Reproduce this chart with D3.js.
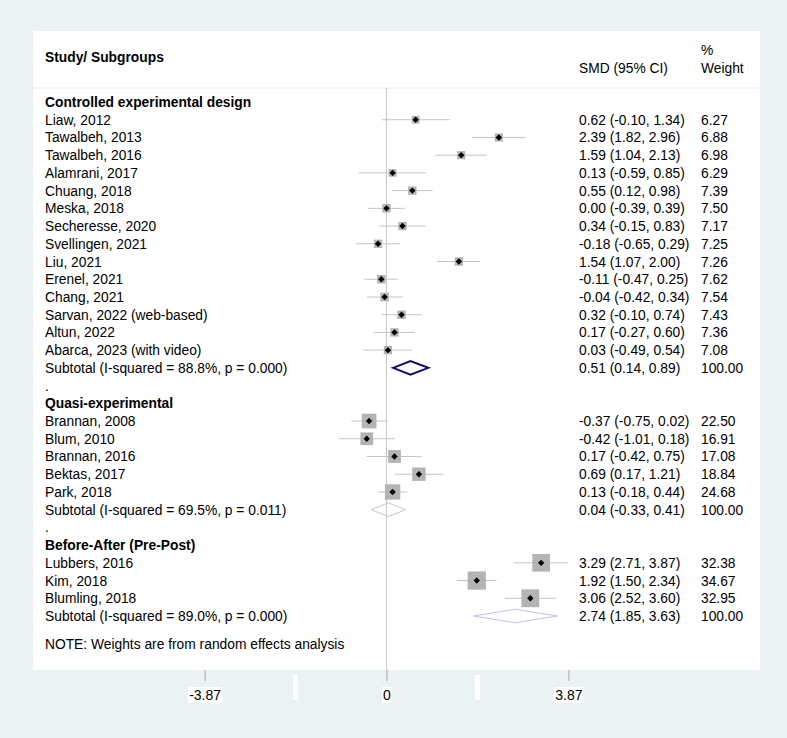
<!DOCTYPE html>
<html><head><meta charset="utf-8">
<script src="https://cdn.jsdelivr.net/npm/d3@7"></script>
<style>
body{margin:0;background:#eaf2f3;}
svg{display:block;font-family:"Liberation Sans",Arial,Helvetica,sans-serif;}
</style></head>
<body><svg id="chart" width="787" height="738"></svg>
<script>
// ---- data ----
const groupNames = ["Controlled experimental design", "Quasi-experimental", "Before-After (Pre-Post)"];
const controlledStudies = ["Liaw, 2012","Tawalbeh, 2013","Tawalbeh, 2016","Alamrani, 2017","Chuang, 2018","Meska, 2018","Secheresse, 2020","Svellingen, 2021","Liu, 2021","Erenel, 2021","Chang, 2021","Sarvan, 2022 (web-based)","Altun, 2022","Abarca, 2023 (with video)"];
const controlledSMD = [0.62,2.39,1.59,0.13,0.55,0.00,0.34,-0.18,1.54,-0.11,-0.04,0.32,0.17,0.03];
const controlledLo  = [-0.10,1.82,1.04,-0.59,0.12,-0.39,-0.15,-0.65,1.07,-0.47,-0.42,-0.10,-0.27,-0.49];
const controlledHi  = [1.34,2.96,2.13,0.85,0.98,0.39,0.83,0.29,2.00,0.25,0.34,0.74,0.60,0.54];
const controlledW   = [6.27,6.88,6.98,6.29,7.39,7.50,7.17,7.25,7.26,7.62,7.54,7.43,7.36,7.08];
const quasiStudies = ["Brannan, 2008","Blum, 2010","Brannan, 2016","Bektas, 2017","Park, 2018"];
const quasiSMD = [-0.37,-0.42,0.17,0.69,0.13];
const quasiLo  = [-0.75,-1.01,-0.42,0.17,-0.18];
const quasiHi  = [0.02,0.18,0.75,1.21,0.44];
const quasiW   = [22.50,16.91,17.08,18.84,24.68];
const prepostStudies = ["Lubbers, 2016","Kim, 2018","Blumling, 2018"];
const prepostSMD = [3.29,1.92,3.06];
const prepostLo  = [2.71,1.50,2.52];
const prepostHi  = [3.87,2.34,3.60];
const prepostW   = [32.38,34.67,32.95];
const subtotalLabels = ["Subtotal  (I-squared = 88.8%, p = 0.000)","Subtotal  (I-squared = 69.5%, p = 0.011)","Subtotal  (I-squared = 89.0%, p = 0.000)"];
const subtotalSMD = [0.51,0.04,2.74];
const subtotalLo  = [0.14,-0.33,1.85];
const subtotalHi  = [0.89,0.41,3.63];
const tickValues = [-3.87, 0, 3.87];
const tickLabels = ["-3.87", "0", "3.87"];
const noteText = "NOTE: Weights are from random effects analysis";

// ---- build rows ----
const groups = [
  {studies: controlledStudies, smd: controlledSMD, lo: controlledLo, hi: controlledHi, w: controlledW},
  {studies: quasiStudies, smd: quasiSMD, lo: quasiLo, hi: quasiHi, w: quasiW},
  {studies: prepostStudies, smd: prepostSMD, lo: prepostLo, hi: prepostHi, w: prepostW}
];
const rows = [];
groups.forEach((g, gi) => {
  if (gi > 0) rows.push({type: "dot"});
  rows.push({type: "head", label: groupNames[gi]});
  g.studies.forEach((s, i) => rows.push({type: "study", label: s, smd: g.smd[i], lo: g.lo[i], hi: g.hi[i], w: g.w[i]}));
  rows.push({type: "sub", gi, label: subtotalLabels[gi], smd: subtotalSMD[gi], lo: subtotalLo[gi], hi: subtotalHi[gi], w: 100});
});
rows.forEach((r, i) => r.i = i);

const fmt = v => (v < 0 ? "-" : "") + Math.abs(v).toFixed(2);
const ciText = r => `${fmt(r.smd)} (${fmt(r.lo)}, ${fmt(r.hi)})`;

// ---- layout ----
const svg = d3.select("#chart");
const x = d3.scaleLinear().domain([-3.87, 3.87]).range([204.6, 568.4]);
const y = d3.scaleLinear().domain([0, rows.length - 1]).range([102, 616]);
const FS = "13.8px";
const panel = {x0: 33, x1: 760, y0: 31, y1: 670};

svg.append("rect").attr("width", 787).attr("height", 738).attr("fill", "#eaf2f3");
svg.append("rect").attr("x", panel.x0).attr("y", panel.y0)
  .attr("width", panel.x1 - panel.x0).attr("height", panel.y1 - panel.y0).attr("fill", "#ffffff");
svg.append("line").attr("x1", panel.x0).attr("x2", panel.x1).attr("y1", 88).attr("y2", 88)
  .attr("stroke", "#e8e8e8").attr("stroke-width", 1);

// headers
svg.append("text").attr("x", 45).attr("y", 62).attr("font-size", FS).attr("font-weight", "bold").text("Study/ Subgroups");
svg.append("text").attr("x", 579).attr("y", 73).attr("font-size", FS).text("SMD (95% CI)");
svg.append("text").attr("x", 701).attr("y", 55).attr("font-size", FS).text("%");
svg.append("text").attr("x", 701).attr("y", 73).attr("font-size", FS).text("Weight");

// axis
const axisG = svg.append("g").attr("transform", `translate(0,${panel.y1})`)
  .call(d3.axisBottom(x).tickValues(tickValues).tickSize(11).tickPadding(9)
    .tickFormat((d, i) => tickLabels[i]));
axisG.select(".domain").remove();
axisG.selectAll(".tick line").attr("stroke", "#a8a8a8");
axisG.selectAll(".tick text").attr("font-size", "14px").attr("fill", "#000")
  .attr("font-family", "\"Liberation Sans\",Arial,sans-serif");
axisG.selectAll(".tick").each(function() {
  const t = d3.select(this).select("text");
  const bb = t.node().getBBox();
  d3.select(this).insert("rect", "text").attr("x", bb.x - 1).attr("y", bb.y)
    .attr("width", bb.width + 2).attr("height", bb.height).attr("fill", "#fff");
});
// white minor marks between ticks
const mids = [(tickValues[0] + tickValues[1]) / 2, (tickValues[1] + tickValues[2]) / 2];
svg.selectAll(".minor").data(mids).join("rect").attr("class", "minor")
  .attr("x", d => x(d) - 2.5).attr("y", 675).attr("width", 5).attr("height", 25).attr("fill", "#fff");

// zero line
svg.append("line").attr("x1", x(0)).attr("x2", x(0)).attr("y1", 88).attr("y2", panel.y1 + 11)
  .attr("stroke", "#c8c8c8").attr("stroke-width", 1);

// text column
const rg = svg.append("g");
rows.forEach(r => {
  const yy = y(r.i) + 5;
  if (r.type === "head") {
    rg.append("text").attr("x", 45).attr("y", yy).attr("font-size", FS).attr("font-weight", "bold").text(r.label);
  } else if (r.type === "dot") {
    rg.append("text").attr("x", 45).attr("y", yy).attr("font-size", FS).text(".");
  } else {
    rg.append("text").attr("x", 45).attr("y", yy).attr("font-size", FS).text(r.label);
    rg.append("text").attr("x", 579).attr("y", yy).attr("font-size", FS).text(ciText(r));
    rg.append("text").attr("x", 701).attr("y", yy).attr("font-size", FS).text(r.w.toFixed(2));
  }
});
svg.append("text").attr("x", 45).attr("y", 649).attr("font-size", FS).text(noteText);

// studies
const studies = rows.filter(r => r.type === "study");
const mg = svg.append("g");
mg.selectAll(".ci").data(studies).join("line").attr("class", "ci")
  .attr("x1", d => x(d.lo)).attr("x2", d => x(d.hi)).attr("y1", d => y(d.i)).attr("y2", d => y(d.i))
  .attr("stroke", "#c4c4c4").attr("stroke-width", 1);
mg.selectAll(".box").data(studies).join("rect").attr("class", "box")
  .attr("x", d => x(d.smd) - 1.55 * Math.sqrt(d.w)).attr("y", d => y(d.i) - 1.55 * Math.sqrt(d.w))
  .attr("width", d => 3.1 * Math.sqrt(d.w)).attr("height", d => 3.1 * Math.sqrt(d.w))
  .attr("fill", "#b4b4b4");
mg.selectAll(".pt").data(studies).join("path").attr("class", "pt")
  .attr("d", d => { const cx = x(d.smd), cy = y(d.i), s = 3.2; return `M${cx},${cy - s}L${cx + s},${cy}L${cx},${cy + s}L${cx - s},${cy}Z`; })
  .attr("fill", "#000");

// subtotal diamonds
const subs = rows.filter(r => r.type === "sub");
mg.selectAll(".dia").data(subs).join("path").attr("class", "dia")
  .attr("d", d => { const cy = y(d.i), h = 6.8; return `M${x(d.lo)},${cy}L${x(d.smd)},${cy - h}L${x(d.hi)},${cy}L${x(d.smd)},${cy + h}Z`; })
  .attr("fill", "none")
  .attr("stroke", d => d.gi === 0 ? "#0b0b7a" : "#c6c0e6")
  .attr("stroke-width", d => d.gi === 0 ? 2 : 1);
</script></body></html>
